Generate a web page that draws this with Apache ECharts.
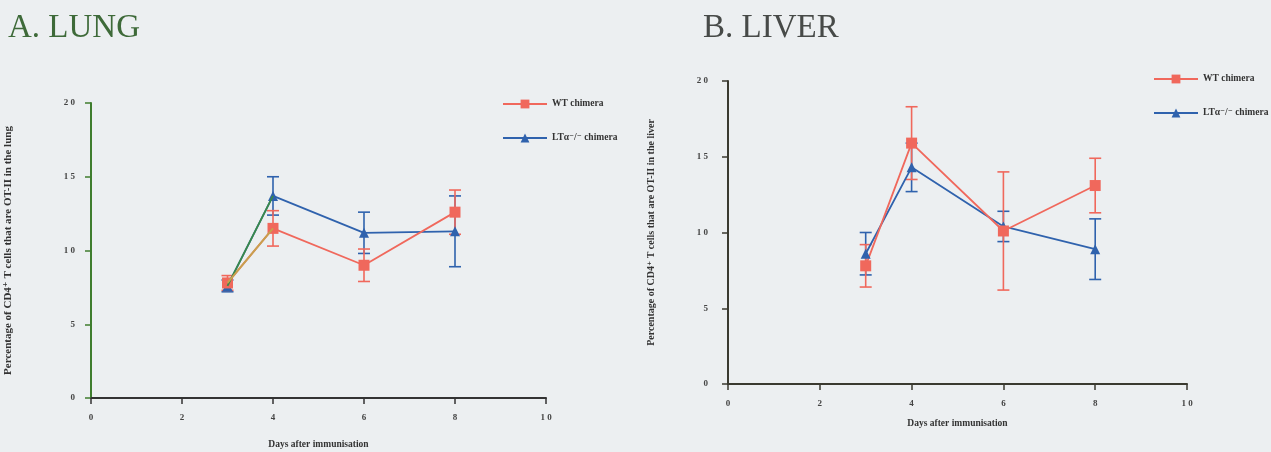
<!DOCTYPE html>
<html>
<head>
<meta charset="utf-8">
<script src="https://cdn.jsdelivr.net/npm/echarts@6/dist/echarts.min.js"></script>
<style>
  html, body { margin: 0; padding: 0; background: #eceff1; }
  #chart { width: 1271px; height: 452px; }
</style>
</head>
<body>
<div id="chart"></div>
<script>
// Days after immunisation
const days = [3, 4, 6, 8];

// A. Lung: % of CD4+ T cells that are OT-II
const lungWT = [7.8, 11.5, 9.0, 12.6];
const lungWTErr = [0.5, 1.2, 1.1, 1.5];
const lungLT = [7.6, 13.7, 11.2, 11.3];
const lungLTErr = [0.4, 1.3, 1.4, 2.4];

// B. Liver
const liverWT = [7.8, 15.9, 10.1, 13.1];
const liverWTErr = [1.4, 2.4, 3.9, 1.8];
const liverLT = [8.6, 14.3, 10.4, 8.9];
const liverLTErr = [1.4, 1.6, 1.0, 2.0];

const xTicks = [0, 2, 4, 6, 8, 10];
const yTicks = [0, 5, 10, 15, 20];

const RED = '#f0685c';
const BLUE = '#2f62ad';
const SERIF = '"Liberation Serif", "DejaVu Serif", serif';
const WT_NAME = 'WT chimera';
const LT_NAME = 'LTα⁻/⁻ chimera';

const spaced = v => String(v).split('').join(' ');

function pairs(xs, ys) { return xs.map((x, i) => [x, ys[i]]); }
function errRows(xs, ys, es) { return xs.map((x, i) => [x, ys[i] - es[i], ys[i] + es[i]]); }

function errorBars(idx, xs, ys, es, color) {
  return {
    type: 'custom',
    xAxisIndex: idx, yAxisIndex: idx,
    z: 1,
    silent: true,
    data: errRows(xs, ys, es),
    encode: { x: 0, y: [1, 2] },
    renderItem: function (params, api) {
      const lo = api.coord([api.value(0), api.value(1)]);
      const hi = api.coord([api.value(0), api.value(2)]);
      const w = 6;
      const style = { stroke: color, lineWidth: 1.6 };
      return {
        type: 'group',
        children: [
          { type: 'line', shape: { x1: lo[0], y1: lo[1], x2: hi[0], y2: hi[1] }, style },
          { type: 'line', shape: { x1: lo[0] - w, y1: lo[1], x2: lo[0] + w, y2: lo[1] }, style },
          { type: 'line', shape: { x1: hi[0] - w, y1: hi[1], x2: hi[0] + w, y2: hi[1] }, style }
        ]
      };
    }
  };
}

function lineSeries(idx, name, xs, ys, color, symbol, size) {
  return {
    type: 'line', name,
    xAxisIndex: idx, yAxisIndex: idx,
    data: pairs(xs, ys),
    symbol, symbolSize: size,
    z: 3,
    lineStyle: { color, width: 1.8 },
    itemStyle: { color },
    animation: false
  };
}

// first-interval segment drawn in its own tint (lung panel)
function segment(idx, name, xs, ys, color) {
  return {
    type: 'line', name,
    xAxisIndex: idx, yAxisIndex: idx,
    data: pairs(xs.slice(0, 2), ys.slice(0, 2)),
    symbol: 'none', z: 4,
    lineStyle: { color, width: 1.8 },
    animation: false
  };
}

function xAxis(idx, axisColor, nameGap) {
  return {
    gridIndex: idx, type: 'value', min: 0, max: 10, interval: 2,
    name: 'Days after immunisation', nameLocation: 'middle', nameGap,
    nameTextStyle: { fontFamily: SERIF, fontWeight: 'bold', fontSize: 9.5, color: '#333' },
    axisLine: { show: true, onZero: false, lineStyle: { color: axisColor, width: 2 } },
    axisTick: { show: true, inside: false, length: 6, lineStyle: { color: axisColor, width: 1.5 } },
    axisLabel: { formatter: spaced, margin: 15, fontFamily: SERIF, fontWeight: 'bold', fontSize: 9, color: '#444' },
    splitLine: { show: false }
  };
}

function yAxis(idx, axisColor, name, nameSize, nameGap, margin) {
  return {
    gridIndex: idx, type: 'value', min: 0, max: 20, interval: 5,
    name, nameLocation: 'middle', nameGap, nameRotate: 90,
    nameTextStyle: { fontFamily: SERIF, fontWeight: 'bold', fontSize: nameSize, color: '#333' },
    axisLine: { show: true, onZero: false, lineStyle: { color: axisColor, width: 2 } },
    axisTick: { show: true, inside: false, length: 6, lineStyle: { color: axisColor, width: 1.5 } },
    axisLabel: { formatter: spaced, margin, fontFamily: SERIF, fontWeight: 'bold', fontSize: 9, color: '#444' },
    splitLine: { show: false }
  };
}

function legend(left, top) {
  return {
    left, top, orient: 'vertical', itemGap: 24,
    itemWidth: 44, itemHeight: 11,
    data: [WT_NAME, LT_NAME],
    selectedMode: false,
    textStyle: { fontFamily: SERIF, fontWeight: 'bold', fontSize: 9.5, color: '#333' }
  };
}

const chart = echarts.init(document.getElementById('chart'));
chart.setOption({
  backgroundColor: '#eceff1',
  animation: false,
  title: [
    { text: 'A. LUNG', left: 3, top: 7, textStyle: { fontFamily: SERIF, fontWeight: 'normal', fontSize: 33, color: '#3e6a39' } },
    { text: 'B. LIVER', left: 698, top: 7, textStyle: { fontFamily: SERIF, fontWeight: 'normal', fontSize: 33, color: '#474a48' } }
  ],
  legend: [legend(497, 94), legend(1148, 69)],
  grid: [
    { left: 91, top: 103, width: 455, height: 295, outerBoundsMode: 'none' },
    { left: 728, top: 81, width: 459, height: 303, outerBoundsMode: 'none' }
  ],
  xAxis: [xAxis(0, '#333', 42), xAxis(1, '#3a3a30', 35)],
  yAxis: [
    yAxis(0, '#3f7d2e', 'Percentage of CD4⁺ T cells that are OT-II in the lung', 11, 77, 16),
    yAxis(1, '#3a3a30', 'Percentage of CD4⁺ T cells that are OT-II in the liver', 10, 72, 20)
  ],
  series: [
    errorBars(0, days, lungLT, lungLTErr, BLUE),
    errorBars(0, days, lungWT, lungWTErr, RED),
    lineSeries(0, LT_NAME, days, lungLT, BLUE, 'triangle', 10),
    lineSeries(0, WT_NAME, days, lungWT, RED, 'rect', 11),
    segment(0, 'lung LT first interval', days, lungLT, '#3a8a48'),
    segment(0, 'lung WT first interval', days, lungWT, '#c7a24e'),

    errorBars(1, days, liverLT, liverLTErr, BLUE),
    errorBars(1, days, liverWT, liverWTErr, RED),
    lineSeries(1, LT_NAME, days, liverLT, BLUE, 'triangle', 10),
    lineSeries(1, WT_NAME, days, liverWT, RED, 'rect', 11)
  ]
});
</script>
</body>
</html>
